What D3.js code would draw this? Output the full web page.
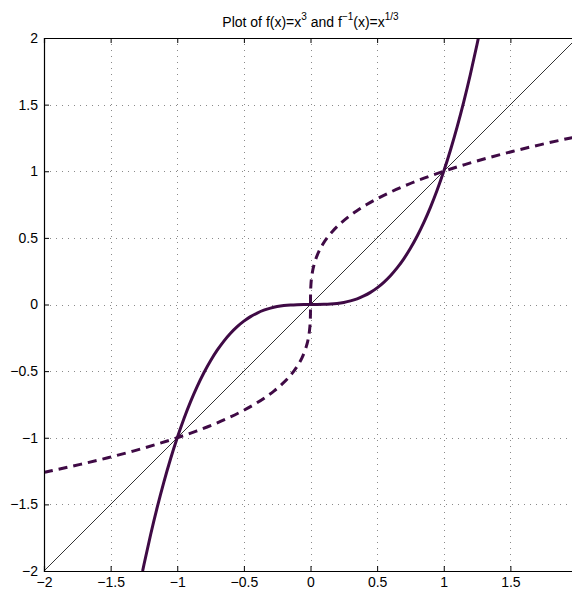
<!DOCTYPE html>
<html>
<head>
<meta charset="utf-8">
<script src="https://cdn.jsdelivr.net/npm/d3@7"></script>
<style>
	body { margin: 0; background: #fff; }
	svg { display: block; font-family: "Liberation Sans", Arial, sans-serif; }
</style>
</head>
<body>
<div id="chart"></div>
<script>
// sample points of y = x^3 (the inverse curve uses the same pairs swapped)
var cubeX = [-1.26, -1.25, -1.2, -1.15, -1.1, -1.05, -1.0, -0.95, -0.9, -0.85, -0.8, -0.75, -0.7, -0.65, -0.6, -0.55, -0.5, -0.45, -0.4, -0.35, -0.3, -0.25, -0.2, -0.15, -0.1, -0.05, 0,
	0.05, 0.1, 0.15, 0.2, 0.25, 0.3, 0.35, 0.4, 0.45, 0.5, 0.55, 0.6, 0.65, 0.7, 0.75, 0.8, 0.85, 0.9, 0.95, 1.0, 1.05, 1.1, 1.15, 1.2, 1.25, 1.26];
var cubeY = [-2.000376, -1.953125, -1.728, -1.520875, -1.331, -1.157625, -1, -0.857375, -0.729, -0.614125, -0.512, -0.421875, -0.343, -0.274625, -0.216, -0.166375, -0.125, -0.091125, -0.064, -0.042875, -0.027, -0.015625, -0.008, -0.003375, -0.001, -0.000125, 0,
	0.000125, 0.001, 0.003375, 0.008, 0.015625, 0.027, 0.042875, 0.064, 0.091125, 0.125, 0.166375, 0.216, 0.274625, 0.343, 0.421875, 0.512, 0.614125, 0.729, 0.857375, 1, 1.157625, 1.331, 1.520875, 1.728, 1.953125, 2.000376];
var diagX = [-2, 2];
var diagY = [-2, 2];
var xTicks = [-2, -1.5, -1, -0.5, 0, 0.5, 1, 1.5];
var yTicks = [-2, -1.5, -1, -0.5, 0, 0.5, 1, 1.5, 2];

var W = 572, H = 591;
var margin = { top: 38, left: 44 };
var plotW = 533, plotH = 533;
var curveColor = "#3f0a45";

var svg = d3.select("#chart").append("svg")
	.attr("width", W)
	.attr("height", H);

var x = d3.scaleLinear().domain([-2, 2]).range([margin.left, margin.left + plotW]);
var y = d3.scaleLinear().domain([-2, 2]).range([margin.top + plotH, margin.top]);

svg.append("clipPath").attr("id", "clip")
	.append("rect")
	.attr("x", margin.left).attr("y", margin.top)
	.attr("width", plotW).attr("height", plotH);

// grid
var grid = svg.append("g").attr("stroke", "#8a8a8a").attr("stroke-width", 1).attr("stroke-dasharray", "1,5");
grid.selectAll(".gx").data(xTicks.slice(1)).enter().append("line")
	.attr("x1", d => Math.round(x(d)) + 0.5).attr("x2", d => Math.round(x(d)) + 0.5)
	.attr("y1", margin.top).attr("y2", margin.top + plotH);
grid.selectAll(".gy").data(yTicks.slice(1, -1)).enter().append("line")
	.attr("y1", d => Math.round(y(d)) + 0.5).attr("y2", d => Math.round(y(d)) + 0.5)
	.attr("x1", margin.left).attr("x2", margin.left + plotW);

// curves
var plot = svg.append("g").attr("clip-path", "url(#clip)");

var diag = d3.zip(diagX, diagY);
plot.append("path")
	.datum(diag)
	.attr("d", d3.line().x(d => x(d[0])).y(d => y(d[1])))
	.attr("fill", "none").attr("stroke", "#000").attr("stroke-width", 0.8);

var cube = d3.zip(cubeX, cubeY);
plot.append("path")
	.datum(cube)
	.attr("d", d3.line().x(d => x(d[0])).y(d => y(d[1])).curve(d3.curveMonotoneX))
	.attr("fill", "none").attr("stroke", curveColor).attr("stroke-width", 3);

var inv = d3.zip(cubeY, cubeX);
plot.append("path")
	.datum(inv)
	.attr("d", d3.line().x(d => x(d[0])).y(d => y(d[1])).curve(d3.curveMonotoneX))
	.attr("fill", "none").attr("stroke", curveColor).attr("stroke-width", 3)
	.attr("stroke-dasharray", "9,6");

// axes box
var xAxis = d3.axisBottom(x).tickValues(xTicks).tickSize(-5).tickPadding(6)
	.tickFormat(d => d3.format("")(d).replace("-", "\u2212"));
var yAxis = d3.axisLeft(y).tickValues(yTicks).tickSize(-5).tickPadding(6)
	.tickFormat(d => d3.format("")(d).replace("-", "\u2212"));
var xTop = d3.axisTop(x).tickValues(xTicks).tickSize(-5).tickFormat("");

function styleAxis(g) {
	g.select(".domain").attr("stroke", "#000").attr("stroke-width", 1.2);
	g.selectAll(".tick line").attr("stroke", "#000");
	g.selectAll(".tick text").attr("fill", "#000").style("font-size", "14px");
}

svg.append("g")
	.attr("transform", "translate(0," + (margin.top + plotH) + ")")
	.call(xAxis).call(styleAxis);
svg.append("g")
	.attr("transform", "translate(" + margin.left + ",0)")
	.call(yAxis).call(styleAxis);
svg.append("g")
	.attr("transform", "translate(0," + margin.top + ")")
	.call(xTop).call(styleAxis);

// title
var title = svg.append("text")
	.attr("x", margin.left + plotW / 2)
	.attr("y", 27)
	.attr("text-anchor", "middle")
	.style("font-size", "14px")
	.attr("fill", "#000");
title.append("tspan").text("Plot of f(x)=x");
title.append("tspan").attr("dy", -7).style("font-size", "10px").text("3");
title.append("tspan").attr("dy", 7).text(" and f");
title.append("tspan").attr("dy", -7).style("font-size", "10px").text("\u22121");
title.append("tspan").attr("dy", 7).text("(x)=x");
title.append("tspan").attr("dy", -7).style("font-size", "10px").text("1/3");
</script>
</body>
</html>
